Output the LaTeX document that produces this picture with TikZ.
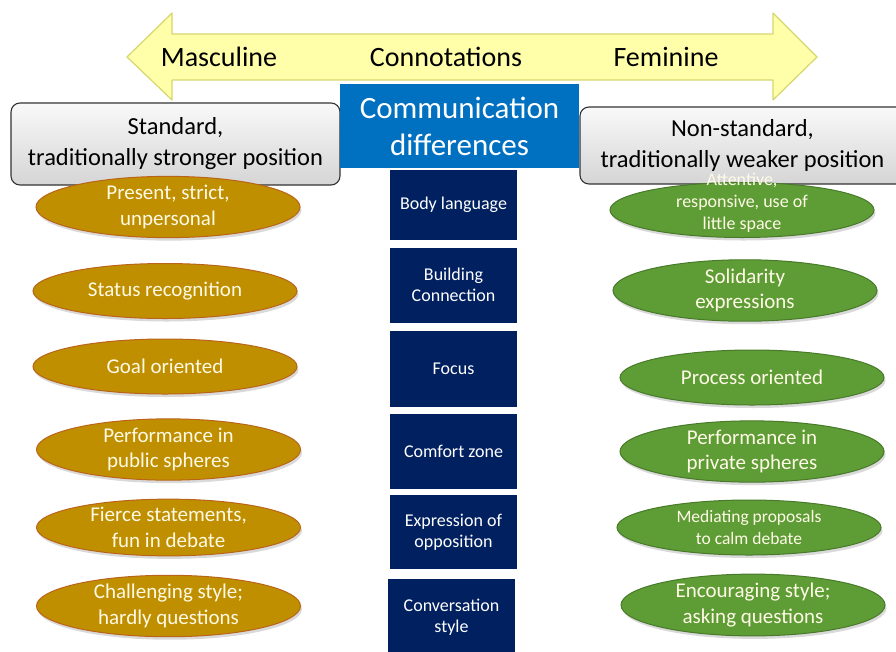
\documentclass[tikz,border=0pt]{standalone}
\usepackage{fontspec}
\setmainfont{Carlito}
\usetikzlibrary{positioning, shadows, shapes.geometric}
\definecolor{arrowYellow}{RGB}{255,255,170}
\definecolor{arrowEdge}{RGB}{214,214,110}
\definecolor{headBlue}{RGB}{0,112,192}
\definecolor{darkNavy}{RGB}{0,32,96}
\definecolor{mascGold}{RGB}{191,143,0}
\definecolor{mascEdge}{RGB}{186,100,25}
\definecolor{femGreen}{RGB}{94,156,54}
\definecolor{femEdge}{RGB}{72,122,42}
\definecolor{ovalText}{RGB}{255,250,230}

\begin{document}
\begin{tikzpicture}[x=1pt, y=-1pt,
    sidebox/.style={draw=black!80, line width=1.1pt, rounded corners=9pt, top color=gray!5, bottom color=gray!33, align=center, inner sep=0pt, font=\fontsize{24.5}{31}\selectfont},
    topicbox/.style={fill=darkNavy, text=white, align=center, minimum width=127pt, inner sep=0pt, font=\fontsize{18}{20.5}\selectfont},
    mascoval/.style={ellipse, fill=mascGold, draw=mascEdge, line width=1pt, minimum width=264pt, minimum height=55pt, inner sep=0pt, text=ovalText, align=center, font=\fontsize{21}{25.5}\selectfont, drop shadow={shadow xshift=1.5pt, shadow yshift=-3pt, opacity=0.3}},
    femoval/.style={mascoval, fill=femGreen, draw=femEdge},
    arrowtext/.style={anchor=base, font=\fontsize{28}{32}\selectfont}
]
    \useasboundingbox (0,0) rectangle (896,651);

    % double arrow
    \draw[fill=arrowYellow, draw=arrowEdge, line width=1.2pt, line join=round]
        (127,57) -- (172,13) -- (172,34) -- (773,34) -- (773,13) -- (817,57)
        -- (773,100) -- (773,80) -- (172,80) -- (172,100) -- cycle;
    \node[arrowtext] (masc) at (219,66) {Masculine};
    \node[arrowtext] (conno) at (446,66) {Connotations};
    \node[arrowtext] (femi) at (666,66) {Feminine};

    % positions
    \node[sidebox, minimum width=329pt, minimum height=82pt] (stdpos) at (175.5,144) {Standard,\\traditionally stronger position};
    \node[sidebox, minimum width=325pt, minimum height=77pt] (nonstdpos) at (742.5,145.5) {Non-standard,\\traditionally weaker position};

    \node[fill=headBlue, text=white, minimum width=239pt, minimum height=84pt, align=center, inner sep=0pt, font=\fontsize{31}{37}\selectfont] (commdiff) at (459.5,126) {Communication\\differences};

    % topics
    \node[topicbox, minimum height=70pt] (body) at (453.5,205) {Body language};
    \node[topicbox, minimum height=75pt] (build) at (453.5,285) {Building\\Connection};
    \node[topicbox, minimum height=76pt] (focus) at (453.5,369) {Focus};
    \node[topicbox, minimum height=75pt] (comfort) at (453.5,451.5) {Comfort zone};
    \node[topicbox, minimum height=74pt] (oppos) at (453.5,532) {Expression of\\opposition};
    \node[topicbox, minimum height=76pt] (convo) at (451.5,617) {Conversation\\style};

    % masculine side
    \node[mascoval] (mBody) at (168,207) {Present, strict,\\unpersonal};
    \node[mascoval] (mBuild) at (165,291) {Status recognition};
    \node[mascoval] (mFocus) at (165,366.5) {Goal oriented};
    \node[mascoval] (mComfort) at (168.5,449.5) {Performance in\\public spheres};
    \node[mascoval] (mOppos) at (168.5,527.5) {Fierce statements,\\fun in debate};
    \node[mascoval] (mConvo) at (168.5,606) {Challenging style;\\hardly questions};

    % feminine side
    \node[femoval] (fBody) at (742,210) {};
    \node[text=ovalText, align=center, font=\fontsize{18}{22}\selectfont] (fBodyText) at (742,203) {Attentive,\\responsive, use of\\little space};
    \node[femoval] (fBuild) at (745,290.5) {Solidarity\\expressions};
    \node[femoval] (fFocus) at (752,377.5) {Process oriented};
    \node[femoval] (fComfort) at (752,451.5) {Performance in\\private spheres};
    \node[femoval, font=\fontsize{17.5}{22}\selectfont] (fOppos) at (749,527.5) {Mediating proposals\\to calm debate};
    \node[femoval] (fConvo) at (753,605) {Encouraging style;\\asking questions};
\end{tikzpicture}
\end{document}
